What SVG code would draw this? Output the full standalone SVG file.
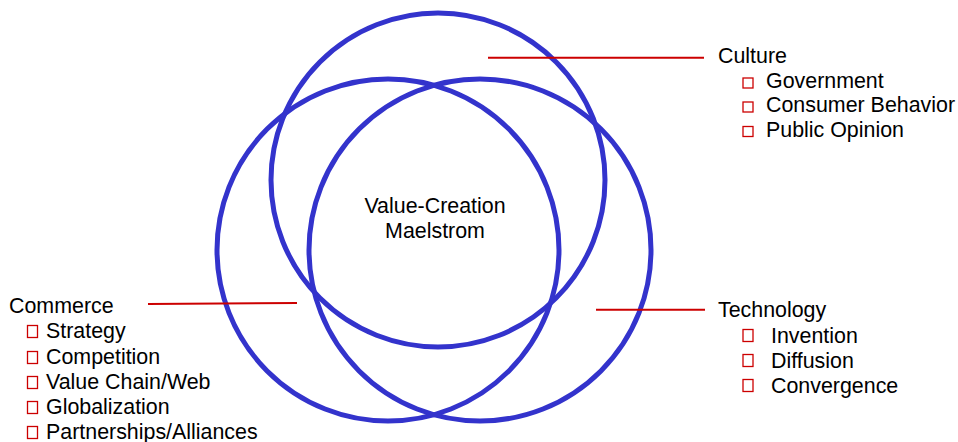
<svg xmlns="http://www.w3.org/2000/svg" width="958" height="442" viewBox="0 0 958 442">
<style>
.c{fill:none;stroke:#3333cc;stroke-width:5}
.l{stroke:#cc0000;stroke-width:2;fill:none}
.b{fill:none;stroke:#cc0000;stroke-width:1.3}
text{font-family:"Liberation Sans",Arial,sans-serif;font-size:21.4px;fill:#000}
</style>
<rect width="958" height="442" fill="#fff"/>
<g id="circles">
<circle id="circle-culture" class="c" cx="438" cy="180" r="167"/>
<circle id="circle-commerce" class="c" cx="388" cy="250" r="171"/>
<circle id="circle-technology" class="c" cx="480" cy="250" r="171"/>
</g>
<g id="connectors">
<line class="l" x1="488" y1="57.7" x2="704" y2="57.7"/>
<line class="l" x1="148" y1="304" x2="297" y2="303"/>
<line class="l" x1="596" y1="309.7" x2="705" y2="309.7"/>
</g>
<g id="center">
<text x="435" y="213" text-anchor="middle">Value-Creation</text>
<text x="435" y="238" text-anchor="middle">Maelstrom</text>
</g>
<g id="culture">
<text x="718" y="63">Culture</text>
<rect class="b" x="743" y="78" width="10" height="10"/>
<text x="766" y="88">Government</text>
<rect class="b" x="743" y="102" width="10" height="10"/>
<text x="766" y="112">Consumer Behavior</text>
<rect class="b" x="743" y="126.5" width="10" height="10"/>
<text x="766" y="137">Public Opinion</text>
</g>
<g id="commerce">
<text x="9" y="313">Commerce</text>
<rect class="b" x="27.5" y="325.5" width="10" height="12"/>
<text x="46" y="338">Strategy</text>
<rect class="b" x="27.5" y="351.5" width="10" height="12"/>
<text x="46" y="364">Competition</text>
<rect class="b" x="27.5" y="376.5" width="10" height="12"/>
<text x="46" y="389">Value Chain/Web</text>
<rect class="b" x="27.5" y="401.5" width="10" height="12"/>
<text x="46" y="414">Globalization</text>
<rect class="b" x="27.5" y="426.5" width="10" height="12"/>
<text x="46" y="439">Partnerships/Alliances</text>
</g>
<g id="technology">
<text x="718" y="317">Technology</text>
<rect class="b" x="743" y="329.5" width="10" height="12"/>
<text x="771" y="343">Invention</text>
<rect class="b" x="743" y="354.5" width="10" height="12"/>
<text x="771" y="368">Diffusion</text>
<rect class="b" x="743" y="379.5" width="10" height="12"/>
<text x="771" y="393">Convergence</text>
</g>
</svg>
